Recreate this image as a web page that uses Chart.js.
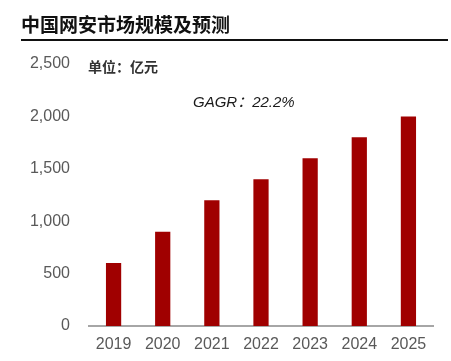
<!DOCTYPE html>
<html><head><meta charset="utf-8">
<script src="https://cdn.jsdelivr.net/npm/chart.js@4"></script>
<style>
html,body{margin:0;padding:0;background:#fff;width:451px;height:361px;overflow:hidden;}
#title{position:absolute;left:21px;top:13px;font:bold 19px "Noto Sans CJK SC";color:#111;line-height:22px;}
#rule{position:absolute;left:21px;top:39px;width:427px;height:2px;background:#111;}
#wrap{position:absolute;left:0;top:0;width:451px;height:361px;}
</style></head>
<body>
<div id="wrap"><canvas id="c" width="451" height="361"></canvas></div>
<div id="title">中国网安市场规模及预测</div>
<div id="rule"></div>
<script>
const categories = ['2019','2020','2021','2022','2023','2024','2025'];
const marketSize = [600, 900, 1200, 1400, 1600, 1800, 2000];
const unitLabel = '单位：亿元';
const cagrLabel = 'GAGR：22.2%';

const notes = {
  id: 'notes',
  afterDraw(chart) {
    const ctx = chart.ctx;
    ctx.save();
    ctx.fillStyle = '#333';
    ctx.font = 'bold 14px "Noto Sans CJK SC"';
    ctx.textBaseline = 'middle';
    ctx.textAlign = 'left';
    ctx.fillText(unitLabel, 88, 67);
    ctx.fillStyle = '#1a1a1a';
    ctx.font = 'italic 15px "Liberation Sans", "Noto Sans CJK SC"';
    ctx.fillText(cagrLabel, 193, 103);
    ctx.restore();
  }
};

new Chart(document.getElementById('c'), {
  type: 'bar',
  data: {
    labels: categories,
    datasets: [{
      data: marketSize,
      backgroundColor: '#A00000',
      barPercentage: 0.31,
      categoryPercentage: 1.0
    }]
  },
  options: {
    responsive: false,
    animation: false,
    devicePixelRatio: 1,
    layout: { padding: { left: 0, right: 18, top: 64, bottom: 0 } },
    plugins: { legend: { display: false }, tooltip: { enabled: false } },
    scales: {
      x: {
        grid: { display: false, drawTicks: false },
        border: { display: true, color: '#a6a6a6', width: 2 },
        ticks: { color: '#595959', font: { family: 'Liberation Sans', size: 16 }, padding: 9, maxRotation: 0 },
        afterFit(s) { s.height = 35; }
      },
      y: {
        min: 0, max: 2500,
        grid: { display: false, drawTicks: false },
        border: { display: false },
        ticks: {
          stepSize: 500,
          color: '#595959',
          font: { family: 'Liberation Sans', size: 16 },
          padding: 19,
          callback: v => v.toLocaleString('en-US')
        },
        afterFit(s) { s.width = 89; }
      }
    }
  },
  plugins: [notes]
});
</script>
</body></html>
